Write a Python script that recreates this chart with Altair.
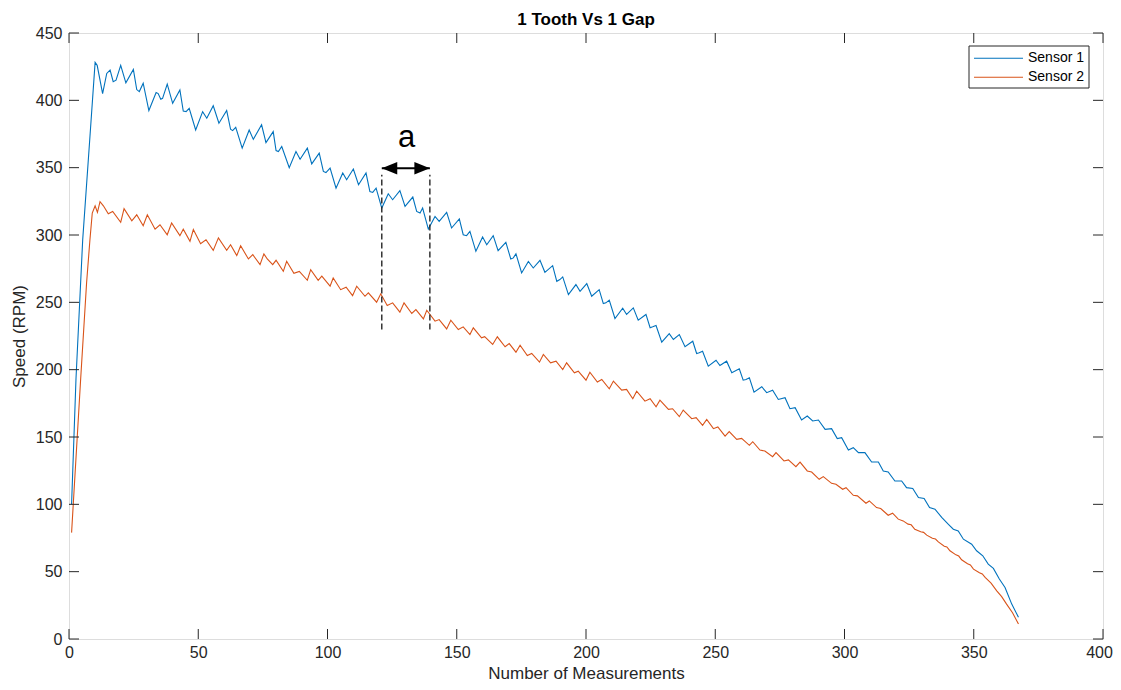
import altair as alt
import pandas as pd

TITLE = "1 Tooth Vs 1 Gap"
X_TITLE = "Number of Measurements"
Y_TITLE = "Speed (RPM)"
SERIES = ["Sensor 1", "Sensor 2"]
COLORS = ["#0072BD", "#D95319"]
X_TICKS = [0, 50, 100, 150, 200, 250, 300, 350, 400]
Y_TICKS = [0, 50, 100, 150, 200, 250, 300, 350, 400, 450]

# Sensor 1 (turning points of the trace)
s1_x = [1, 2.7, 5.3, 8.1, 10.1, 10.9, 13.0, 14.6, 15.9, 17.1, 18.2, 20, 22, 24.9, 26.2, 27.2, 28.7, 30.9,
        33.7, 34.5, 35.5, 36.2, 38, 40.1, 42.9, 44.2, 45.3, 46.5, 49, 51.7, 53.3, 55.8, 58, 61, 62.5, 63.3,
        64.5, 67, 69.7, 71.3, 74.5, 76.2, 79, 80.1, 81, 82.3, 85.2, 87.8, 89.4, 92.2, 93.9, 96.8, 98.4, 99.4,
        101, 103.3, 105.9, 107.4, 110, 112, 114.9, 116.4, 117.5, 118.8, 121, 123.5, 125.2, 128, 130, 133,
        134.5, 135.8, 136.8, 139, 141.6, 143.2, 146.1, 148, 151, 152.5, 153.8, 155.1, 157.4, 160, 161.6,
        164.1, 166, 169, 170.9, 171.9, 172.9, 175.1, 177.7, 179.6, 182.2, 184.1, 187.1, 188.7, 189.9, 191,
        193.2, 196.1, 197.7, 200.3, 202.2, 205.1, 206.7, 207.7, 209, 211.2, 214.2, 215.7, 218.3, 220.2,
        223.2, 224.8, 225.8, 227.1, 229.3, 232.2, 233.8, 236.1, 238.3, 241.3, 242.8, 243.8, 245.1, 247.3,
        250.3, 251.8, 254.4, 256.4, 259.3, 260.8, 261.9, 263.2, 265, 268, 269.9, 272.2, 274.4, 277, 278.9,
        280.9, 283.4, 285.6, 287.7, 289.9, 292.5, 295, 297.2, 298.9, 301.5, 303.4, 305.4, 307.9, 310.5,
        313.1, 315, 316.9, 319.5, 322.1, 324, 326.4, 328.6, 330.8, 332.9, 335, 337.6, 340.2, 342.1, 344,
        346, 349.2, 351.1, 353.5, 355.6, 357.6, 359.9, 362.1, 364.7, 367.3]
s1_y = [100, 193, 296.5, 373, 428.2, 426, 405, 420, 422.5, 413.9, 415, 426, 413, 423, 408, 406.5, 412.7, 392.4,
        405.8, 405, 400.8, 401.5, 412, 397.8, 407.7, 392, 391.6, 394, 378, 391.6, 386.7, 396, 383, 392.4, 378.5,
        377.5, 380, 364.5, 378, 371, 381.8, 368.6, 376.8, 362.7, 362, 365.7, 350, 362, 356.3, 364.5, 352.8,
        360.8, 347.2, 346.4, 349.7, 334.8, 346, 341, 349, 337.3, 346, 332.3, 331.6, 334.8, 320, 330.6, 326.2,
        333, 321.3, 328.2, 317.5, 316.3, 320, 304.4, 313.8, 310.1, 316.8, 305.2, 311.9, 300.2, 299.5, 302.7,
        287.9, 298.5, 292.8, 299.5, 288.4, 294.5, 282.2, 283, 286.1, 271.8, 280.4, 275.5, 281.2, 272.3, 277.2,
        265.6, 266.9, 268.9, 255.7, 263.2, 258.2, 263.9, 254.5, 259.4, 249.1, 249.6, 251.6, 238, 245.6, 241,
        245.9, 236.7, 241, 231.1, 231.8, 232.8, 220.4, 226.8, 222.4, 226.1, 217, 221.1, 212, 212.5, 213.7,
        202.6, 207, 203.1, 206.3, 197.7, 200.7, 192.2, 192.7, 194, 183.3, 187.3, 182.9, 184.8, 177.9, 179.2,
        171, 171.8, 162.6, 165.6, 161.9, 162.6, 155.7, 156.2, 148.8, 149.5, 140.3, 142.1, 138.4, 138.4, 131.4,
        131.4, 124.8, 124, 117.3, 117.3, 112.4, 111.7, 105, 104.3, 97.6, 96.4, 90.3, 85.2, 81.5, 80.3, 74.1,
        70.4, 65.5, 61.8, 55.6, 52.4, 44.5, 38.3, 25.9, 16.1]

# Sensor 2
s2_x = [1, 4.5, 6.8, 8.1, 9, 10.1, 11, 12, 13.3, 15.2, 16.9, 20, 21.3, 24.3, 26.2, 28.7, 30.3, 33.3, 35.2,
        38, 39.7, 42.9, 44.2, 46.8, 48.1, 50.9, 53, 55.8, 57.8, 61, 62.5, 64.9, 66.4, 69.4, 71.1, 73.9, 75.4,
        76.7, 78.8, 80.1, 82.9, 84.2, 87, 89.1, 92.2, 93.5, 96.4, 97.8, 101, 102.2, 105.1, 107.2, 109.7,
        111.3, 114.5, 115.8, 119, 120.6, 123.1, 125.2, 128, 129.6, 132.6, 134.2, 137.1, 138.4, 141.6, 143.2,
        146.1, 147.7, 150.6, 152.5, 155.1, 156.4, 159.6, 160.8, 163.9, 165.7, 168.7, 170.3, 172.9, 174.5,
        177.3, 179, 182, 183.5, 186.3, 188.4, 191, 192.5, 195.5, 197, 200, 201.5, 204.4, 206.1, 209, 210.6,
        213.8, 215.7, 218.1, 219.6, 222.8, 224.8, 227.1, 228.6, 231.9, 233.5, 236.1, 237.6, 240.9, 242.6,
        245.1, 246.7, 249.3, 251, 253.8, 255.4, 258.3, 260.2, 263.2, 264.5, 267.3, 269.2, 272.2, 273.5,
        276.6, 278.3, 281.2, 282.8, 285.6, 287.3, 290.2, 291.8, 295, 296.7, 299.3, 300.6, 303.4, 305, 308.3,
        309.6, 312.4, 314, 316.9, 318.6, 320.8, 322.7, 324.6, 325.8, 327.2, 329.5, 330.6, 331.8, 334, 335.2,
        336.3, 338.6, 339.6, 340.8, 343.1, 344.2, 345.3, 347.6, 348.7, 349.9, 352.2, 353.3, 354.4, 356.7,
        358.9, 360.8, 362.7, 365, 367.3]
s2_y = [79, 192.7, 264.4, 296.5, 316.3, 321.7, 316.8, 324.7, 321.7, 315.8, 317.5, 309.4, 319.6, 310.5, 315,
        306.9, 315, 304.3, 307.6, 300.2, 308.9, 299.5, 304.3, 295.3, 304, 293.5, 296.5, 288.6, 297.9, 288.6,
        292.8, 284.7, 292, 282.2, 285.4, 278, 286, 282.2, 278, 281.2, 273, 280.5, 271.6, 273, 266.4, 274.3,
        266.4, 269.4, 262, 268.1, 259.4, 261.2, 255, 262, 254.5, 257, 250.1, 256.3, 247.6, 249.6, 242.7,
        249.6, 241.7, 244.6, 237.7, 244.1, 236, 237.2, 230.3, 236.7, 229.8, 231.8, 226.1, 231.1, 223.6, 224.5,
        218.7, 224.4, 217, 219.4, 213, 218.2, 210.5, 212, 205.6, 211.3, 205.1, 206.3, 200.1, 205.1, 197.7,
        198.9, 192.2, 198.1, 190.8, 192.7, 185.8, 191.5, 184.8, 185.3, 178.4, 184, 176.6, 178.4, 172.4,
        177.4, 170.5, 171, 165.1, 170, 163.6, 164.4, 158.6, 163.1, 156.2, 157.5, 150.7, 154, 148.3, 149,
        143.8, 146.5, 140.3, 139.6, 135.4, 138.4, 132.2, 133, 128, 131.4, 124.8, 124, 118.6, 120.6, 115.6,
        114.9, 111.2, 112.4, 106.7, 106.3, 100.8, 102.5, 97.6, 96.9, 91.9, 93.4, 89, 87.7, 85.3, 84.8, 81.5,
        79.6, 79.2, 77.1, 74.8, 74.2, 72.1, 68.9, 68.4, 65.5, 62.5, 61.6, 58.8, 55.9, 55, 51.9, 49.2, 48.3,
        45.7, 41.5, 35.8, 31.5, 25.9, 19.5, 11.1]

# Annotation "a"
ANN_X = [121, 139.6]
ANN_Y_LOW = 229.8
ANN_Y_HIGH = 344.7
ARROW_Y = 349.6
ANN_LABEL = "a"
ANN_LABEL_X = 130.6
ANN_LABEL_Y = 365

W, H = 1034, 606
FONT = "Liberation Sans"
INK = "#262626"

rows = []
for name, xs_, ys_ in [(SERIES[0], s1_x, s1_y), (SERIES[1], s2_x, s2_y)]:
    for i, (a, b) in enumerate(zip(xs_, ys_)):
        rows.append({"x": a, "y": b, "series": name, "i": i})
df = pd.DataFrame(rows)

xs = alt.Scale(domain=[0, 400], nice=False, zero=False)
ys = alt.Scale(domain=[0, 450], nice=False, zero=False)

x_axis = alt.Axis(values=X_TICKS, title=X_TITLE, grid=False, domain=False, ticks=False, tickSize=0,
                  labelFontSize=16, labelFont=FONT, labelColor=INK, labelPadding=5, labelFlush=False,
                  labelOffset={"condition": {"test": "datum.value == 400", "value": -4}, "value": 0},
                  titleFontSize=17, titleFont=FONT, titleFontWeight="normal", titleColor=INK,
                  titleX=W / 2, titleY=39, titleBaseline="alphabetic", titleAlign="center")
y_axis = alt.Axis(values=Y_TICKS, title=Y_TITLE, grid=False, domain=False, ticks=False, tickSize=0,
                  labelFontSize=16, labelFont=FONT, labelColor=INK, labelPadding=7, labelFlush=False,
                  titleFontSize=17, titleFont=FONT, titleFontWeight="normal", titleColor=INK,
                  titleX=-45, titleY=H / 2, titleBaseline="alphabetic", titleAlign="center", titleAngle=270)

X = alt.X("x:Q", scale=xs, axis=x_axis)
Y = alt.Y("y:Q", scale=ys, axis=y_axis)

lines = alt.Chart(df).mark_line(strokeWidth=1.1).encode(
    x=X, y=Y,
    color=alt.Color("series:N", scale=alt.Scale(domain=SERIES, range=COLORS), legend=None),
    order="i:Q",
    detail="series:N",
)

xt = pd.DataFrame({"x": X_TICKS})
yt = pd.DataFrame({"y": Y_TICKS})
tick_b = alt.Chart(xt).mark_rule(color=INK, strokeWidth=1).encode(x=X, y=alt.value(H), y2=alt.value(H - 10))
tick_t = alt.Chart(xt).mark_rule(color=INK, strokeWidth=1).encode(x=X, y=alt.value(0), y2=alt.value(10))
tick_l = alt.Chart(yt).mark_rule(color=INK, strokeWidth=1).encode(y=Y, x=alt.value(0), x2=alt.value(10))
tick_r = alt.Chart(yt).mark_rule(color=INK, strokeWidth=1).encode(y=Y, x=alt.value(W), x2=alt.value(W - 10))

ann_df = pd.DataFrame({"x": ANN_X, "y": [ANN_Y_LOW] * 2, "y2": [ANN_Y_HIGH] * 2})
dashes = alt.Chart(ann_df).mark_rule(color=INK, strokeWidth=1.4, strokeDash=[6, 3]).encode(
    x=X, y=Y, y2="y2:Q")
arrow_df = pd.DataFrame({"x": [ANN_X[0]], "x2": [ANN_X[1]], "y": [ARROW_Y]})
shaft = alt.Chart(arrow_df).mark_rule(color="black", strokeWidth=2).encode(x=X, x2="x2:Q", y=Y)
head_l = alt.Chart(pd.DataFrame({"x": [ANN_X[0]], "y": [ARROW_Y]})).mark_point(
    shape="M0,0L2,-0.8L2,0.8Z", size=240, filled=True, color="black", opacity=1).encode(x=X, y=Y)
head_r = alt.Chart(pd.DataFrame({"x": [ANN_X[1]], "y": [ARROW_Y]})).mark_point(
    shape="M0,0L-2,-0.8L-2,0.8Z", size=240, filled=True, color="black", opacity=1).encode(x=X, y=Y)
label_a = alt.Chart(pd.DataFrame({"x": [ANN_LABEL_X], "y": [ANN_LABEL_Y], "t": [ANN_LABEL]})).mark_text(
    fontSize=31, font=FONT, color="black", baseline="alphabetic", align="center").encode(
    x=X, y=Y, text="t:N")

one = pd.DataFrame({"k": [0]})
title_mark = alt.Chart(pd.DataFrame({"t": [TITLE]})).mark_text(
    fontSize=17, font=FONT, fontWeight="bold", color="black", align="center", baseline="alphabetic").encode(
    x=alt.value(W / 2), y=alt.value(-8), text="t:N")

# legend box (drawn by hand, MATLAB style)
leg_box = alt.Chart(one).mark_rect(fill="white", stroke=INK, strokeWidth=1).encode(
    x=alt.value(900), x2=alt.value(1020), y=alt.value(13), y2=alt.value(55))
leg_layers = [leg_box]
for j, (name, col) in enumerate(zip(SERIES, COLORS)):
    yy = 25.3 + 19 * j
    leg_layers.append(alt.Chart(one).mark_rule(color=col, strokeWidth=1.1).encode(
        x=alt.value(905), x2=alt.value(954), y=alt.value(yy)))
    leg_layers.append(alt.Chart(pd.DataFrame({"t": [name]})).mark_text(
        fontSize=14, font=FONT, color="black", align="left", baseline="middle").encode(
        x=alt.value(959), y=alt.value(yy), text="t:N"))

chart = alt.layer(lines, tick_b, tick_t, tick_l, tick_r, dashes, shaft, head_l, head_r, label_a,
                  title_mark, *leg_layers).properties(
    width=W, height=H,
    padding={"left": 61, "top": 25, "right": 10, "bottom": 43},
    autosize=alt.AutoSizeParams(type="none"),
).configure_view(stroke=INK, strokeWidth=1).configure(font=FONT, background="white")

chart.save("out.html", embed_options={"renderer": "svg", "actions": False})
